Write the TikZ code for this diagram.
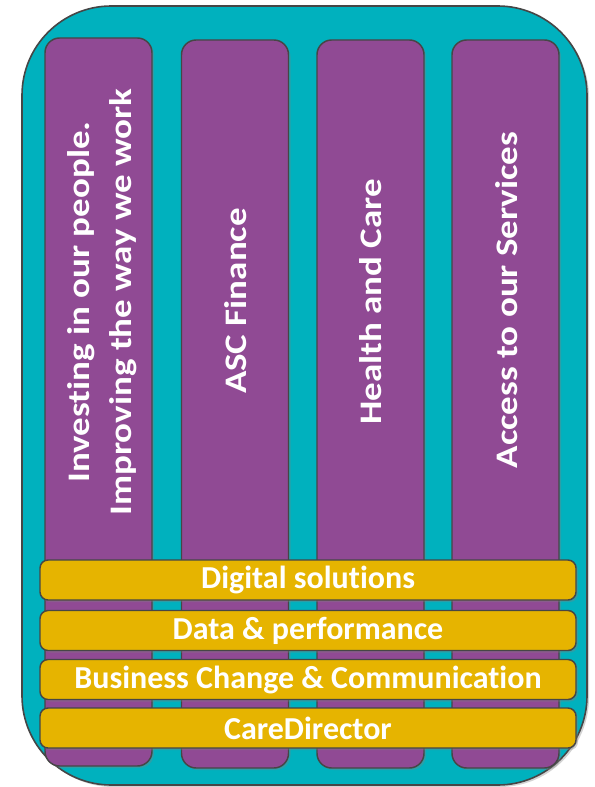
\documentclass[tikz,border=0pt]{standalone}
\usepackage{fontspec}
\setmainfont{Carlito}[RawFeature={-liga;-calt;-dlig}]
\usetikzlibrary{shadows}
\definecolor{tealbg}{RGB}{0,177,190}
\definecolor{plum}{RGB}{144,74,148}
\definecolor{gold}{RGB}{230,180,0}
\definecolor{edge}{RGB}{70,70,70}
\begin{document}
\begin{tikzpicture}[x=0.75pt,y=0.75pt,yscale=-1,xscale=1,
  boxshadow/.style={drop shadow={opacity=0.35,shadow xshift=1.5pt,shadow yshift=-1.5pt}},
  pillar/.style={draw=edge,line width=1.1pt,fill=plum,rounded corners=11pt,
    minimum width=80.25pt,minimum height=546pt,inner sep=0pt,boxshadow},
  pillartext/.style={rotate=90,text=white,font=\fontsize{23.5}{31.5}\selectfont\bfseries,
    align=center,inner sep=0pt},
  layer/.style={draw=edge,line width=1.1pt,fill=gold,rounded corners=6pt,
    minimum width=402pt,minimum height=30pt,inner sep=0pt,text=white,
    font=\fontsize{24}{28}\selectfont\bfseries,boxshadow}]
\useasboundingbox (0,0) rectangle (594,787);
\draw [draw=edge,line width=1.2pt,fill=tealbg,rounded corners=67pt,boxshadow] (22,6) rectangle (587,785);
\node [pillar] (p1) at (98.5,402) {};
\node [pillar] (p2) at (235,404) {};
\node [pillar] (p3) at (370.5,404) {};
\node [pillar] (p4) at (505.5,404) {};
\node [pillartext] (t1) at (102,302) {\scalebox{1.18}[1]{Investing in our people.}\\\scalebox{1.18}[1]{Improving the way we work}};
\node [pillartext] (t2) at (236,301) {\scalebox{1.18}[1]{ASC Finance}};
\node [pillartext] (t3) at (371,302) {\scalebox{1.18}[1]{Health and Care}};
\node [pillartext] (t4) at (507,300) {\scalebox{1.18}[1]{Access to our Services}};
\node [layer] (l1) at (308,580) {Digital solutions};
\node [layer] (l2) at (308,630.5) {Data \& performance};
\node [layer] (l3) at (308,679.5) {Business Change \& Communication};
\node [layer] (l4) at (308,728) {CareDirector};
\end{tikzpicture}
\end{document}
